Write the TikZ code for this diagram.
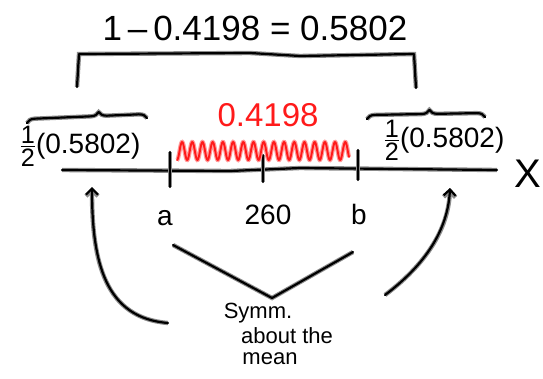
\documentclass[tikz,border=0pt]{standalone}
\usepackage{amsmath}
\usepackage{fontspec}
\setmainfont{Liberation Sans}
\usepackage{tikz}
\usetikzlibrary{arrows.meta, decorations.pathreplacing, calc}
\usepackage{xcolor}
\definecolor{InkBlack}{HTML}{000000}
\definecolor{InkHalo}{HTML}{8C8C8C}
\definecolor{InkRed}{HTML}{FF1A1A}
\definecolor{InkPink}{HTML}{FF9A9A}
\tikzset{
    % Pen styles - thick strokes with a soft halo
    ink/.style={
        draw=InkBlack,
        line width=2.2pt,
        line cap=round,
        line join=round,
        preaction={draw=InkHalo, line width=4.4pt}
    },
    redink/.style={
        draw=InkRed,
        line width=1.9pt,
        line cap=round,
        line join=round,
        preaction={draw=InkPink, line width=4.2pt}
    },
    handbrace/.style={
        ink,
        decorate,
        decoration={brace, amplitude=8pt, aspect=#1}
    },
    % Arrow styles
    arrow/.style={
        ink,
        -{Straight Barb[length=6pt, width=12pt]}
    },
    % Text styles
    label/.style={
        inner sep=0pt,
        font=\fontsize{28}{30}\selectfont
    },
    note/.style={
        inner sep=0pt,
        font=\fontsize{22}{24}\selectfont
    },
    biglabel/.style={
        inner sep=0pt,
        font=\fontsize{35}{38}\selectfont
    }
}
\newcommand{\halfof}{{\fontsize{36}{36}\selectfont$\frac{\text{1}}{\text{2}}$}}

\begin{document}
\begin{tikzpicture}[x=1pt, y=-1pt]
    \useasboundingbox (0,0) rectangle (543,378);

    % Total of both tails
    \node[biglabel] (total) at (255,28) {1\,--\,0.4198 = 0.5802};
    \coordinate (tl) at (77,87);
    \coordinate (tr) at (416,88);
    \draw[ink] (tl) -- (79,54) -- (250,53) -- (300,56) -- (414,54) -- (tr);

    % Axis
    \coordinate (xs) at (62,170);
    \coordinate (xe) at (497,170);
    \draw[ink] (xs) -- (230,171) -- (300,168) -- (xe);
    \node[label, font=\fontsize{40}{40}\selectfont] (xlab) at (528,174) {X};

    % Ticks
    \draw[ink] (170,152) -- (170,187);
    \draw[ink] (263,155) -- (263,182);
    \draw[ink] (358,150) -- (358,180);
    \node[label] (a) at (165,218) {a};
    \node[label] (mu) at (268,215) {260};
    \node[label] (b) at (359,214) {b};

    % Middle area
    \node[biglabel, text=InkRed, font=\fontsize{33}{36}\selectfont] (mid) at (268,115) {0.4198};
    \draw[redink] plot[domain=0:172, samples=400] ({177+\x},{151+9*cos(\x*35.3)});

    % Tails
    \draw[handbrace=0.6] (27,123) -- (147,118);
    \node[label] (left) at (80,146) {\halfof(0.5802)};
    \draw[handbrace=0.53] (367,119) -- (485,117);
    \node[label] (right) at (444,140) {\halfof(0.5802)};

    % Symmetry note
    \node[note] (symm) at (258,313) {Symm.};
    \node[note] (about) at (287,336) {about the};
    \node[note] (mean) at (270,359) {mean};
    \coordinate (va) at (173,245);
    \coordinate (vm) at (272,298);
    \coordinate (vb) at (353,252);
    \draw[ink] (va) -- (vm) -- (vb);

    % Arrows to the tails
    \coordinate (ls) at (168,323);
    \coordinate (lt) at (92,187);
    \draw[arrow] (ls) .. controls (105,318) and (92,262) .. (lt);
    \coordinate (rs) at (385,295);
    \coordinate (rt) at (450,188);
    \draw[arrow] (rs) .. controls (425,265) and (448,230) .. (rt);
\end{tikzpicture}
\end{document}
